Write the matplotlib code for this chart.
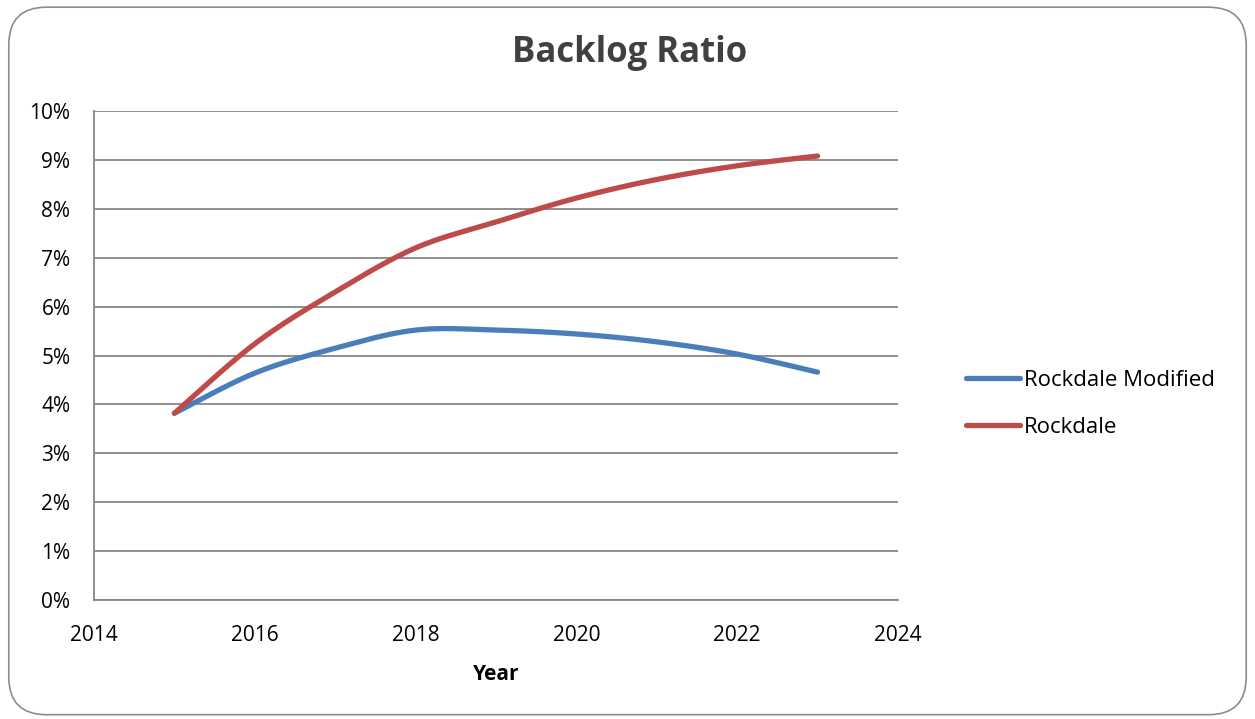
import numpy as np
import matplotlib.pyplot as plt
from matplotlib.patches import FancyBboxPatch
from matplotlib.ticker import FuncFormatter

years = [2015, 2016, 2017, 2018, 2019, 2020, 2021, 2022, 2023]
rockdale_modified = [3.82, 4.64, 5.15, 5.52, 5.52, 5.44, 5.28, 5.03, 4.66]
rockdale = [3.82, 5.24, 6.30, 7.20, 7.73, 8.22, 8.60, 8.88, 9.08]
series_names = ["Rockdale Modified", "Rockdale"]
colors = ["#4a7ebb", "#be4b48"]


def smooth(x, y, n=30):
    # excel-like smoothed line: cubic bezier with catmull-rom control points
    p = np.column_stack([x, y]).astype(float)
    p = np.vstack([p[0], p, p[-1]])
    t = np.linspace(0, 1, n)[:, None]
    out = []
    for i in range(1, len(p) - 2):
        p0, p3 = p[i], p[i + 1]
        p1 = p0 + (p[i + 1] - p[i - 1]) / 6
        p2 = p3 - (p[i + 2] - p[i]) / 6
        seg = (1 - t) ** 3 * p0 + 3 * (1 - t) ** 2 * t * p1 + 3 * (1 - t) * t ** 2 * p2 + t ** 3 * p3
        out.append(seg)
    out = np.vstack(out)
    return out[:, 0], out[:, 1]


plt.rcParams['font.family'] = ['Open Sans', 'DejaVu Sans']

fig = plt.figure(figsize=(12.55, 7.19), dpi=100)
frame = FancyBboxPatch((0.007, 0.006), 0.986, 0.984, boxstyle="round,pad=0,rounding_size=0.03",
                       transform=fig.transFigure, facecolor="none", edgecolor="#8c8c8c", lw=1.2,
                       mutation_aspect=1255 / 719, zorder=10)
fig.patches.append(frame)

ax = fig.add_axes([0.0749, 0.1655, 0.6406, 0.6801])
ax.set_facecolor("none")

for name, vals, c in zip(series_names, [rockdale_modified, rockdale], colors):
    sx, sy = smooth(years, vals)
    ax.plot(sx, sy, color=c, lw=3.8, solid_capstyle="round", label=name)

ax.set_xlim(2014, 2024)
ax.set_ylim(0, 10)
ax.set_xticks(range(2014, 2025, 2))
ax.set_yticks(range(0, 11))
ax.yaxis.set_major_formatter(FuncFormatter(lambda v, p: f"{v:.0f}%"))
ax.grid(axis="y", color="#868686", lw=1.3)
ax.set_axisbelow(True)
for s in ["top", "right"]:
    ax.spines[s].set_visible(False)
for s in ["left", "bottom"]:
    ax.spines[s].set_color("#868686")
    ax.spines[s].set_linewidth(1.3)
ax.tick_params(length=0, labelsize=15, colors="black")
ax.tick_params(axis="x", pad=18)
ax.tick_params(axis="y", pad=17)

ax.set_xlabel("Year", fontsize=15, fontweight="bold", labelpad=13)
fig.text(0.502, 0.926, "Backlog Ratio", ha="center", va="center", fontsize=25,
         fontweight="bold", color="#404040")

ax.legend(loc="center left", bbox_to_anchor=(1.085, 0.401), frameon=False, fontsize=16,
          borderpad=0, borderaxespad=0, handlelength=2.4, handletextpad=0.2, labelspacing=1.2)

fig.savefig("out.png", dpi=100)
